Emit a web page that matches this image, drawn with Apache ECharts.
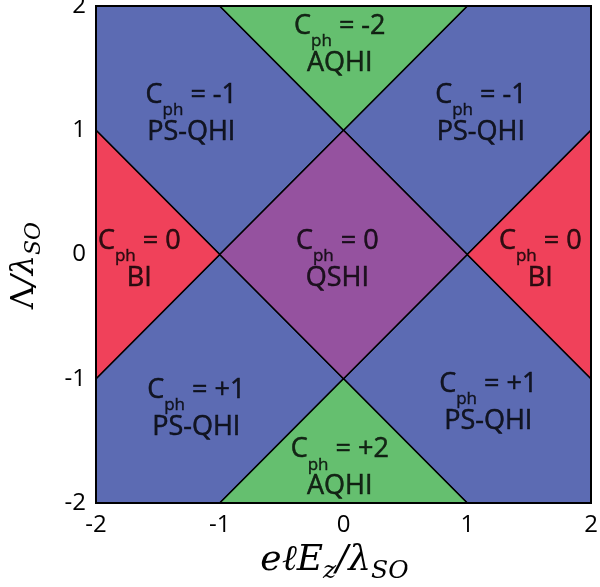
<!DOCTYPE html>
<html>
<head>
<meta charset="utf-8">
<script src="https://cdn.jsdelivr.net/npm/echarts@6/dist/echarts.min.js"></script>
<style>html,body{margin:0;padding:0;background:#fff;}#c{width:600px;height:587px;}</style>
</head>
<body>
<div id="c"></div>
<script>
// Axis ticks
const xTicks = [-2, -1, 0, 1, 2];
const yTicks = [-2, -1, 0, 1, 2];

// Phase regions (vertices in data coordinates)
const bluePhases = [
  [[-2, 2], [-1, 2], [0, 1], [-1, 0], [-2, 1]],
  [[1, 2], [2, 2], [2, 1], [1, 0], [0, 1]],
  [[-2, -1], [-1, 0], [0, -1], [-1, -2], [-2, -2]],
  [[0, -1], [1, 0], [2, -1], [2, -2], [1, -2]]
];
const greenPhases = [
  [[-1, 2], [1, 2], [0, 1]],
  [[-1, -2], [1, -2], [0, -1]]
];
const redPhases = [
  [[-2, 1], [-1, 0], [-2, -1]],
  [[2, 1], [1, 0], [2, -1]]
];
const purplePhases = [
  [[0, 1], [1, 0], [0, -1], [-1, 0]]
];

// Labels
const labelX = [-0.03, -1.23, 1.11, -1.65, -0.05, 1.59, -1.19, 1.17, -0.03];
const labelY = [1.69, 1.13, 1.13, -0.04, -0.04, -0.04, -1.24, -1.19, -1.72];
const chernNumbers = ['-2', '-1', '-1', '0', '0', '0', '+1', '+1', '+2'];
const phaseNames = ['AQHI', 'PS-QHI', 'PS-QHI', 'BI', 'QSHI', 'BI', 'PS-QHI', 'PS-QHI', 'AQHI'];

const COLORS = { blue: '#5c6bb3', green: '#65bf6f', red: '#f0415a', purple: '#95529f' };
const FONT = 'Open Sans';
const SERIF = 'DejaVu Serif';

function polySeries(polys, color) {
  return {
    type: 'custom',
    coordinateSystem: 'cartesian2d',
    data: polys.map((p, i) => [i]),
    silent: true,
    renderItem: function (params, api) {
      const poly = polys[params.dataIndex];
      return {
        type: 'polygon',
        shape: { points: poly.map(pt => api.coord(pt)) },
        style: { fill: color, stroke: '#000', lineWidth: 1.5 }
      };
    }
  };
}

function titleRich(size) {
  const sub = Math.round(size * 0.7);
  return {
    u: { fontFamily: SERIF, fontSize: size, color: '#000', lineHeight: 38 },
    i: { fontFamily: SERIF, fontStyle: 'italic', fontSize: size, color: '#000', lineHeight: 38 },
    s: { fontFamily: SERIF, fontStyle: 'italic', fontSize: sub, color: '#000', lineHeight: 22, padding: [17, 0, 0, 0], verticalAlign: 'top' }
  };
}

const chart = echarts.init(document.getElementById('c'));
chart.setOption({
  animation: false,
  grid: { left: 96, top: 6, width: 495, height: 497, containLabel: false, outerBoundsMode: 'none', show: true, borderColor: '#000', borderWidth: 2, backgroundColor: 'transparent', z: 10 },
  xAxis: {
    type: 'value', min: -2, max: 2, interval: 1,
    axisLine: { show: false }, axisTick: { show: false }, splitLine: { show: false },
    axisLabel: { fontSize: 24, color: '#000', fontFamily: FONT, margin: 10 },
    name: '{i|eℓE}{s|z}{i|/λ}{s|SO}',
    nameLocation: 'middle', nameGap: 38,
    nameTextStyle: { rich: titleRich(36), padding: [0, 18, 0, 0] }
  },
  yAxis: {
    type: 'value', min: -2, max: 2, interval: 1,
    axisLine: { show: false }, axisTick: { show: false }, splitLine: { show: false },
    axisLabel: { fontSize: 24, color: '#000', fontFamily: FONT, margin: 10 },
    name: '{u|Λ}{i|/λ}{s|SO}',
    nameLocation: 'middle', nameGap: 52,
    nameTextStyle: { rich: titleRich(32), padding: [0, 22, 0, 0] }
  },
  series: [
    polySeries(bluePhases, COLORS.blue),
    polySeries(greenPhases, COLORS.green),
    polySeries(redPhases, COLORS.red),
    polySeries(purplePhases, COLORS.purple),
    {
      type: 'scatter',
      symbolSize: 0,
      z: 20,
      silent: true,
      data: labelX.map((x, i) => [x, labelY[i]]),
      label: {
        show: true,
        position: 'inside',
        color: '#000',
        formatter: function (p) {
          const i = p.dataIndex;
          return '{c|C}{s|ph}{c| = ' + chernNumbers[i] + '}\n{c|' + phaseNames[i] + '}';
        },
        rich: {
          c: { fontFamily: FONT, fontSize: 27, color: '#000', lineHeight: 37, textBorderColor: '#000', textBorderWidth: 0.5 },
          s: { fontFamily: FONT, fontSize: 17, color: '#000', lineHeight: 20, padding: [25, 0, 0, 0], verticalAlign: 'top', textBorderColor: '#000', textBorderWidth: 0.4 }
        }
      }
    }
  ]
});
</script>
</body>
</html>
